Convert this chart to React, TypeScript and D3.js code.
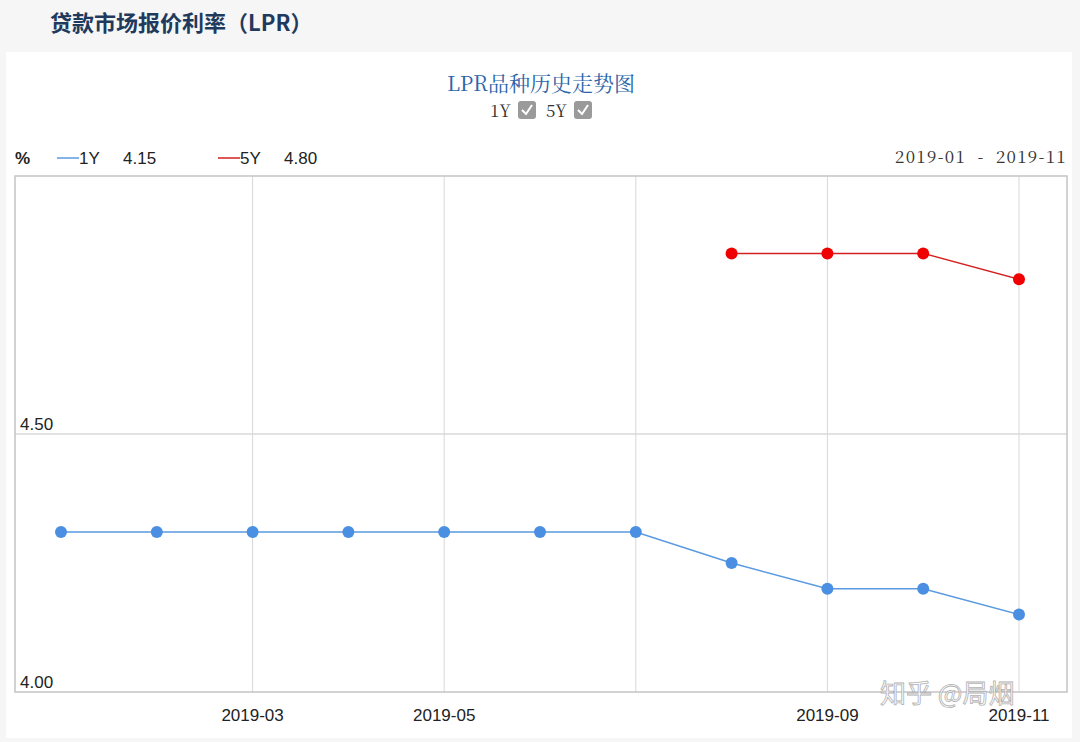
import React, { useEffect, useRef } from 'react';
import * as d3 from 'd3';

const months = ['2019-01', '2019-02', '2019-03', '2019-04', '2019-05', '2019-06', '2019-07', '2019-08', '2019-09', '2019-10', '2019-11'];
const lpr1y = [4.31, 4.31, 4.31, 4.31, 4.31, 4.31, 4.31, 4.25, 4.20, 4.20, 4.15];
const lpr5y = [null, null, null, null, null, null, null, 4.85, 4.85, 4.85, 4.80];
const gridMonths = ['2019-03', '2019-05', '2019-07', '2019-09', '2019-11'];
const labelMonths = ['2019-03', '2019-05', '2019-09', '2019-11'];
const yTicks = [4.0, 4.5];

const sans = 'Helvetica, Arial, "Liberation Sans", sans-serif';
const serif = '"Noto Serif CJK SC", "Liberation Serif", "DejaVu Serif", serif';
const cjk = '"Noto Sans CJK SC", sans-serif';

export default function App() {
  const ref = useRef<SVGSVGElement>(null);

  useEffect(() => {
    const width = 1080;
    const height = 742;
    const svg = d3.select(ref.current).attr('width', width).attr('height', height);
    svg.selectAll('*').remove();

    // page + card
    svg.append('rect').attr('width', width).attr('height', height).attr('fill', '#f6f6f7');
    svg.append('rect').attr('x', 6).attr('y', 52).attr('width', 1066).attr('height', 686).attr('fill', '#fff');

    svg.append('text')
      .attr('x', 50).attr('y', 31)
      .attr('font-family', cjk).attr('font-weight', 700).attr('font-size', 22)
      .attr('fill', '#1f3a5c')
      .text('贷款市场报价利率（LPR）');

    svg.append('text')
      .attr('x', 541).attr('y', 91).attr('text-anchor', 'middle')
      .attr('font-family', serif).attr('font-size', 21).attr('fill', '#2a64a8')
      .text('LPR品种历史走势图');

    // series toggles
    const toggles = [{ name: '1Y', x: 490 }, { name: '5Y', x: 546 }];
    toggles.forEach(t => {
      svg.append('text').attr('x', t.x).attr('y', 117)
        .attr('font-family', serif).attr('font-size', 17).attr('fill', '#333').text(t.name);
      const bx = t.x + 28;
      svg.append('rect').attr('x', bx).attr('y', 101).attr('width', 18).attr('height', 18).attr('rx', 3).attr('fill', '#9a9a9a');
      svg.append('path').attr('d', `M${bx + 4},${110} L${bx + 8},${114} L${bx + 14},${105}`)
        .attr('fill', 'none').attr('stroke', '#fff').attr('stroke-width', 2);
    });

    const x = d3.scalePoint().domain(months).range([61, 1019]);
    const y = d3.scaleLinear().domain([4.0, 5.0]).range([692, 176]);

    const plot = svg.append('g');
    plot.selectAll('.vgrid').data(gridMonths).enter().append('line')
      .attr('x1', d => x(d)!).attr('x2', d => x(d)!)
      .attr('y1', 176).attr('y2', 692).attr('stroke', '#d8d8d8');
    plot.append('line').attr('x1', 15).attr('x2', 1067).attr('y1', y(4.5)).attr('y2', y(4.5)).attr('stroke', '#d8d8d8').attr('stroke-width', 1.5);
    plot.append('rect').attr('x', 15).attr('y', 176).attr('width', 1052).attr('height', 516)
      .attr('fill', 'none').attr('stroke', '#c4c4c4').attr('stroke-width', 1.5);

    plot.selectAll('.ylab').data(yTicks).enter().append('text')
      .attr('x', 20).attr('y', d => y(d) - 4)
      .attr('font-family', sans).attr('font-size', 17).attr('fill', '#222')
      .text(d => d.toFixed(2));

    plot.selectAll('.xlab').data(labelMonths).enter().append('text')
      .attr('x', d => x(d)!).attr('y', 721).attr('text-anchor', 'middle')
      .attr('font-family', sans).attr('font-size', 17).attr('fill', '#222')
      .text(d => d);

    const series = [
      { name: '1Y', values: lpr1y, line: '#5a9ae0', dot: '#4a8fe2' },
      { name: '5Y', values: lpr5y, line: '#d42020', dot: '#f00000' },
    ];
    series.forEach(s => {
      const pts = months.map((m, i) => ({ m, v: s.values[i] })).filter(p => p.v != null) as { m: string; v: number }[];
      const line = d3.line<{ m: string; v: number }>().x(p => x(p.m)!).y(p => y(p.v));
      plot.append('path').attr('d', line(pts)).attr('fill', 'none').attr('stroke', s.line).attr('stroke-width', 1.5);
      plot.selectAll(null).data(pts).enter().append('circle')
        .attr('cx', p => x(p.m)!).attr('cy', p => y(p.v)).attr('r', 6).attr('fill', s.dot);
    });

    // legend row
    svg.append('text').attr('x', 15).attr('y', 164).attr('font-family', sans).attr('font-weight', 700)
      .attr('font-size', 17).attr('fill', '#222').text('%');
    const legend = [{ s: series[0], x: 57, last: lpr1y[lpr1y.length - 1] }, { s: series[1], x: 218, last: lpr5y[lpr5y.length - 1] as number }];
    legend.forEach(l => {
      svg.append('line').attr('x1', l.x).attr('x2', l.x + 22).attr('y1', 158).attr('y2', 158).attr('stroke', l.s.line).attr('stroke-width', 1.5);
      svg.append('text').attr('x', l.x + 22).attr('y', 164).attr('font-family', sans).attr('font-size', 17).attr('fill', '#222').text(l.s.name);
      svg.append('text').attr('x', l.x + 66).attr('y', 164).attr('font-family', sans).attr('font-size', 17).attr('fill', '#222').text(l.last.toFixed(2));
    });
    svg.append('text').attr('x', 1067).attr('y', 163).attr('text-anchor', 'end')
      .attr('font-family', serif).attr('font-size', 17).attr('letter-spacing', 1.3).attr('fill', '#333')
      .attr('xml:space', 'preserve')
      .text(`${months[0]}  -  ${months[months.length - 1]}`);

    // watermark
    svg.append('text').attr('x', 880).attr('y', 703)
      .attr('font-family', cjk).attr('font-size', 26).attr('fill', '#fff')
      .attr('stroke', '#aaa').attr('stroke-width', 0.8).attr('opacity', 0.9)
      .text('知乎 @局烟');
  }, []);

  return <svg ref={ref} style={{ position: 'absolute', left: 0, top: 0 }} />;
}
